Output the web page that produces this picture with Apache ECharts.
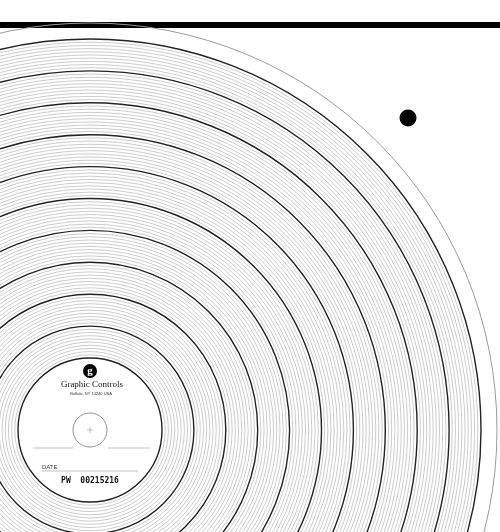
<!DOCTYPE html><html><head><meta charset="utf-8"><script src="https://cdn.jsdelivr.net/npm/echarts@6/dist/echarts.min.js"></script>
<style>html,body{margin:0;padding:0;background:#fff}#c{width:500px;height:532px}</style></head><body><div id="c"></div><script>
const ringMin = 0, ringMax = 10, ringStep = 1, minorDivs = 10;
const labelTexts = ['Graphic Controls', 'Buffalo, NY 14240 USA', 'DATE', 'PW  00215216'];
const chart = echarts.init(document.getElementById('c'));
const C = [90, 430];
chart.setOption({
  animation: false,
  polar: [{center: C, radius: [72, 391]}, {center: C, radius: [0, 407]}],
  angleAxis: [
    {polarIndex: 0, show: true, axisLine: {show: false}, axisTick: {show: false}, axisLabel: {show: false}, splitLine: {show: false}},
    {polarIndex: 1, show: true, axisLine: {show: true, lineStyle: {color: '#999', width: 1}}, axisTick: {show: false}, axisLabel: {show: false}, splitLine: {show: false}}
  ],
  radiusAxis: [
    {polarIndex: 0, min: ringMin, max: ringMax, interval: ringStep, axisLine: {show: false}, axisTick: {show: false}, axisLabel: {show: false},
     splitLine: {show: true, lineStyle: {color: '#222', width: 1.4}},
     minorTick: {show: false, splitNumber: minorDivs},
     minorSplitLine: {show: true, lineStyle: {color: '#aaa', width: 0.6}}},
    {polarIndex: 1, min: 0, max: 1, axisLine: {show: false}, axisTick: {show: false}, axisLabel: {show: false}, splitLine: {show: false}}
  ],
  series: [],
  graphic: [
    {type: 'rect', shape: {x: 0, y: 22, width: 500, height: 6}, style: {fill: '#000'}},
    {type: 'circle', shape: {cx: 408, cy: 118, r: 8.5}, style: {fill: '#000'}},
    {type: 'circle', shape: {cx: C[0], cy: C[1], r: 17}, style: {fill: 'none', stroke: '#777', lineWidth: 0.8}},
    {type: 'line', shape: {x1: 87, y1: 430, x2: 93, y2: 430}, style: {stroke: '#999', lineWidth: 0.6}},
    {type: 'line', shape: {x1: 90, y1: 427, x2: 90, y2: 433}, style: {stroke: '#999', lineWidth: 0.6}},
    {type: 'circle', shape: {cx: 90, cy: 371, r: 7}, style: {fill: '#000'}},
    {type: 'text', style: {x: 90, y: 371, text: 'g', fill: '#fff', font: 'bold 11px serif', align: 'center', verticalAlign: 'middle'}},
    {type: 'text', style: {x: 92, y: 385, text: labelTexts[0], fill: '#111', font: '9px "Liberation Serif"', align: 'center', verticalAlign: 'middle'}},
    {type: 'text', style: {x: 91, y: 394, text: labelTexts[1], fill: '#333', font: '4px "Liberation Sans"', align: 'center', verticalAlign: 'middle'}},
    {type: 'line', shape: {x1: 33, y1: 448, x2: 73, y2: 448}, style: {stroke: '#999', lineWidth: 0.6}},
    {type: 'line', shape: {x1: 108, y1: 448, x2: 150, y2: 448}, style: {stroke: '#999', lineWidth: 0.6}},
    {type: 'text', style: {x: 42, y: 467, text: labelTexts[2], fill: '#444', font: '6px "Liberation Sans"', align: 'left', verticalAlign: 'middle'}},
    {type: 'line', shape: {x1: 42, y1: 471, x2: 138, y2: 471}, style: {stroke: '#999', lineWidth: 0.6}},
    {type: 'text', style: {x: 90, y: 481, text: labelTexts[3], fill: '#111', font: 'bold 8px "DejaVu Sans Mono"', align: 'center', verticalAlign: 'middle'}}
  ]
});
</script></body></html>
